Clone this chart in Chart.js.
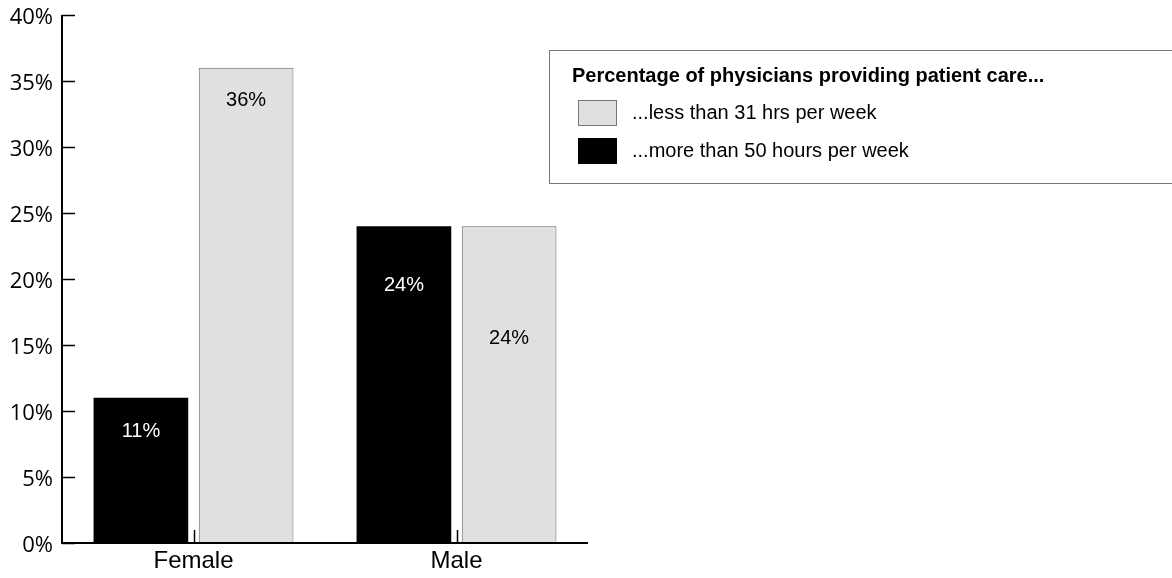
<!DOCTYPE html>
<html>
<head>
<meta charset="utf-8">
<script src="https://cdn.jsdelivr.net/npm/chart.js@4/dist/chart.umd.min.js"></script>
<style>
  html, body { margin: 0; padding: 0; background: #ffffff; }
  #wrap { position: relative; width: 1172px; height: 578px; }
</style>
</head>
<body>
<div id="wrap"><canvas id="c" width="1172" height="578"></canvas></div>
<script>
// Categories and series
const categories = ['Female', 'Male'];
const moreThan50 = [11, 24];   // % providing care more than 50 hours per week
const lessThan31 = [36, 24];   // % providing care less than 31 hrs per week
const seriesLabels = ['...more than 50 hours per week', '...less than 31 hrs per week'];
const legendTitle = 'Percentage of physicians providing patient care...';
const yTicks = [0, 5, 10, 15, 20, 25, 30, 35, 40];

const FONT = '"Liberation Sans", Arial, sans-serif';
const TICK_FONT = '"Open Sans", "Liberation Sans", sans-serif';

// Inward tick marks and the two axis lines
const axisTicks = {
  id: 'axisTicks',
  afterDraw(chart) {
    const { ctx, chartArea: a, scales: { x, y } } = chart;
    ctx.save();
    ctx.strokeStyle = '#000';
    ctx.lineWidth = 1.5;
    ctx.beginPath();
    yTicks.forEach(v => {
      const py = Math.round(y.getPixelForValue(v)) + 0.5;
      ctx.moveTo(a.left, py); ctx.lineTo(a.left + 13, py);
    });
    categories.forEach((c, i) => {
      const px = Math.round(x.getPixelForValue(i)) + 0.5;
      ctx.moveTo(px, a.bottom); ctx.lineTo(px, a.bottom - 13);
    });
    ctx.stroke();
    ctx.lineWidth = 2;
    ctx.beginPath();
    ctx.moveTo(a.left, a.top); ctx.lineTo(a.left, a.bottom);
    ctx.lineTo(a.right, a.bottom);
    ctx.stroke();
    ctx.restore();
  }
};

// Value labels inside the bars
const valueLabels = {
  id: 'valueLabels',
  afterDatasetsDraw(chart, args, opts) {
    const { ctx } = chart;
    ctx.save();
    ctx.font = '20px ' + FONT;
    ctx.textAlign = 'center';
    ctx.textBaseline = 'middle';
    chart.data.datasets.forEach((ds, di) => {
      const meta = chart.getDatasetMeta(di);
      meta.data.forEach((bar, i) => {
        ctx.fillStyle = opts.colors[di];
        const dy = opts.offsets[di][i];
        ctx.fillText(ds.data[i] + '%', bar.x, bar.y + dy);
      });
    });
    ctx.restore();
  }
};

// Boxed legend with a bold heading
const boxLegend = {
  id: 'boxLegend',
  afterDraw(chart) {
    const { ctx } = chart;
    ctx.save();
    const bx = 549.5, by = 50.5, bw = 640, bh = 133;
    ctx.strokeStyle = '#777';
    ctx.lineWidth = 1;
    ctx.strokeRect(bx, by, bw, bh);
    ctx.fillStyle = '#000';
    ctx.textBaseline = 'middle';
    ctx.textAlign = 'left';
    ctx.font = 'bold 20px ' + FONT;
    ctx.fillText(legendTitle, 572, 76);
    // legend rows in reverse dataset order
    const rows = [1, 0];
    rows.forEach((di, r) => {
      const ds = chart.data.datasets[di];
      const cy = 113 + r * 38;
      ctx.fillStyle = ds.backgroundColor;
      ctx.fillRect(578, cy - 13, 39, 26);
      ctx.strokeStyle = di === 1 ? '#777' : '#000';
      ctx.strokeRect(578.5, cy - 12.5, 38, 25);
      ctx.fillStyle = '#000';
      ctx.font = '20px ' + FONT;
      ctx.fillText(ds.label, 632, cy);
    });
    ctx.restore();
  }
};

new Chart(document.getElementById('c'), {
  type: 'bar',
  data: {
    labels: categories,
    datasets: [
      { label: seriesLabels[0], data: moreThan50, backgroundColor: '#000000', borderColor: '#000000', borderWidth: 0 },
      { label: seriesLabels[1], data: lessThan31, backgroundColor: '#e0e0e0', borderColor: '#666666', borderWidth: 1 }
    ]
  },
  options: {
    responsive: false,
    animation: false,
    events: [],
    layout: { padding: { top: 15, right: 584, left: 0, bottom: 0 } },
    plugins: {
      legend: { display: false },
      tooltip: { enabled: false },
      valueLabels: {
        colors: ['#ffffff', '#000000'],
        offsets: [[34, 59], [33, 112]]
      }
    },
    scales: {
      x: {
        grid: { display: false, drawTicks: false },
        border: { display: false },
        ticks: { color: '#000', font: { family: FONT, size: 24 }, padding: 4 },
        afterFit(s) { s.height = 35; }
      },
      y: {
        min: 0, max: 40,
        afterBuildTicks(s) { s.ticks = yTicks.map(v => ({ value: v })); },
        grid: { display: false, drawTicks: false },
        border: { display: false },
        ticks: { color: '#000', font: { family: TICK_FONT, size: 22 }, padding: 9, labelOffset: 3, callback: v => v + '%' },
        afterFit(s) { s.width = 62; s.paddingTop = 0; }
      }
    }
  },
  plugins: [axisTicks, valueLabels, boxLegend]
});
</script>
</body>
</html>
